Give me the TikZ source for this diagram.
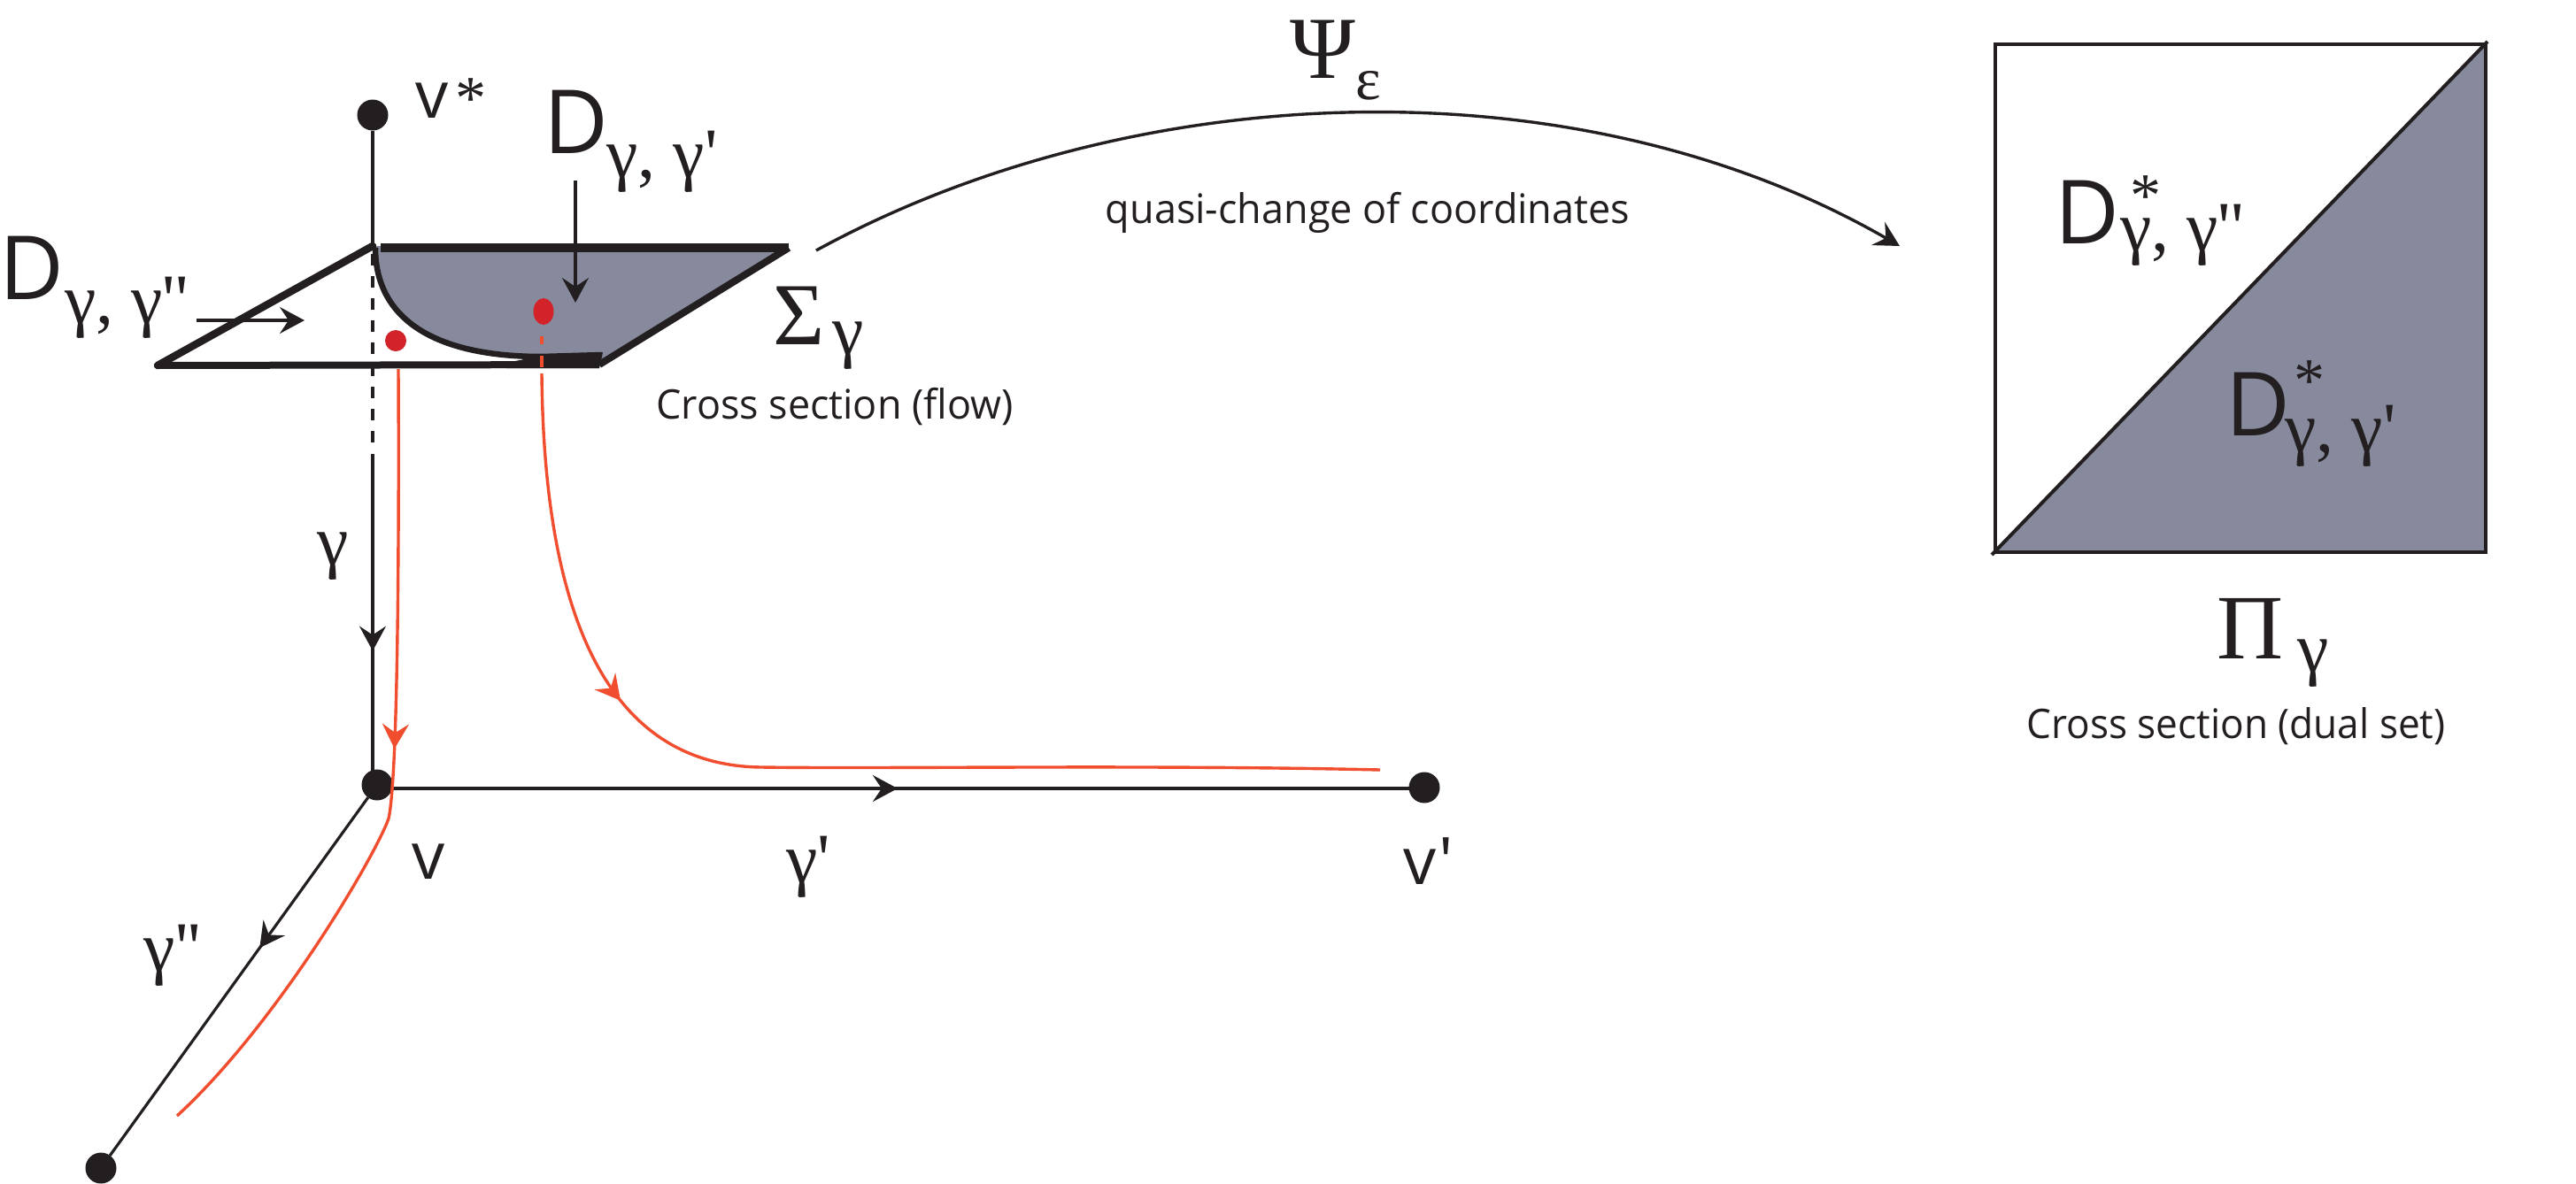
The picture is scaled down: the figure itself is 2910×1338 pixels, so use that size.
\documentclass[tikz,border=0pt]{standalone}
\usepackage{fontspec}
\setmainfont{Open Sans}
\newfontfamily\plainfont{Open Sans}
\newfontfamily\symfont{Liberation Serif}
\usetikzlibrary{arrows.meta,decorations.markings,shapes.geometric}
\definecolor{ink}{HTML}{231F20}
\definecolor{greyfill}{HTML}{868A9C}
\definecolor{flowred}{HTML}{F04E2F}
\definecolor{dotred}{HTML}{D2232A}
\newcommand{\fs}[1]{\fontsize{#1pt}{#1pt}\selectfont}
\tikzset{
 every node/.style={inner sep=0pt,outer sep=0pt,text=ink},
 vertexdot/.style={circle,fill=ink,minimum size=35pt},
 reddot/.style={ellipse,fill=dotred},
 thinline/.style={draw=ink,line width=3.2pt},
 redline/.style={draw=flowred,line width=3.4pt},
 blacktip/.style={-{Stealth[length=28pt,width=30pt,inset=10pt]}},
 midblack/.style={postaction={decorate,decoration={markings,mark=at position #1 with {\arrow{Stealth[length=28pt,width=30pt,inset=10pt]}}}}},
 midred/.style={postaction={decorate,decoration={markings,mark=at position #1 with {\arrow[flowred]{Stealth[length=28pt,width=30pt,inset=10pt]}}}}},
 bigD/.style={font=\fs{100}},
 sub/.style={font=\symfont\fs{80}},
 star/.style={font=\symfont\fs{70}},
 capt/.style={font=\fs{46}},
}
\begin{document}
\begin{tikzpicture}[x=1pt,y=-1pt]
\useasboundingbox (0,0) rectangle (2910,1338);
% vertices
\node[vertexdot] (vstar) at (421,130) {};
\node[vertexdot] (v) at (426,887) {};
\node[vertexdot] (vp) at (1609,890) {};
\node[vertexdot] (vpp) at (114,1320) {};
\coordinate (pTL) at (421,278);
\coordinate (pTR) at (891,280);
\coordinate (pBR) at (677,412);
\coordinate (pBL) at (178,413);
\coordinate (dashstart) at (421,287);
\coordinate (dashend) at (421,505);
\coordinate (solidstart) at (421,513);
\coordinate (solidend) at (421,872);
\coordinate (hstart) at (426,891);
\coordinate (hend) at (1609,891);
% grey region
\fill[greyfill] (pTL) -- (pTR) -- (pBR) -- (612,405) .. controls (490,405) and (424,360) .. (424,280) -- cycle;
% parallelogram outline
\draw[draw=ink,line width=8pt] (pBR) -- (pBL);
\draw[draw=ink,line width=8.5pt,line cap=round] (pBL) -- (pTL);
\draw[draw=ink,line width=10pt] (430,280) -- (pTR);
\draw[draw=ink,line width=8pt] (pTR) -- (pBR);
\draw[draw=ink,line width=6.5pt] (424,280) .. controls (424,360) and (490,403) .. (612,403) -- (680,401);
\fill[ink] (572,410) -- (612,402) -- (681,398) -- (677,416) -- (572,416) -- cycle;
% axes
\draw[thinline] (vstar) -- (pTL);
\draw[thinline,dash pattern=on 13pt off 12pt] (dashstart) -- (dashend);
\draw[thinline,midblack=0.62] (solidstart) -- (solidend);
\draw[thinline,midblack=0.497] (hstart) -- (hend);
\draw[thinline,midblack=0.42] (v) -- (vpp);
% inner arrows
\coordinate (a1s) at (650,204);
\coordinate (a1e) at (650,342);
\coordinate (a2s) at (222,362);
\coordinate (a2e) at (344,362);
\draw[thinline,blacktip] (a1s) -- (a1e);
\draw[thinline,blacktip] (a2s) -- (a2e);
% red dots
\node[reddot,minimum width=23pt,minimum height=30pt] (r1) at (614,352) {};
\node[reddot,minimum width=24pt,minimum height=24pt] (r2) at (447,385) {};
% red curves
\coordinate (f0) at (450,417);
\coordinate (f1) at (200,1261);
\coordinate (g0) at (612,422);
\coordinate (g1) at (1559,870);
\draw[redline,midred=0.465] (f0) .. controls (451,640) and (449,880) .. (439,925)
  .. controls (425,965) and (315,1155) .. (f1);
\draw[redline] (612,380) -- (612,389);
\draw[redline] (612,402) -- (612,415);
\draw[redline,midred=0.305] (g0) .. controls (614,640) and (660,865) .. (860,867)
  .. controls (1000,869) and (1300,864) .. (g1);
% big arc
\coordinate (arcs) at (922,283);
\coordinate (arce) at (2146,278);
\draw[draw=ink,line width=3.4pt,blacktip] (arcs) .. controls (1280,87) and (1780,67) .. (arce);
% square
\coordinate (sTL) at (2254,50);
\coordinate (sTR) at (2808,50);
\coordinate (sBL) at (2254,624);
\coordinate (sBR) at (2808,624);
\coordinate (dgA) at (2250,627);
\coordinate (dgB) at (2810,47);
\fill[greyfill] (sBL) -- (sTR) -- (sBR) -- cycle;
\draw[draw=ink,line width=4pt] (sBL) rectangle (sTR);
\draw[draw=ink,line width=4pt] (dgA) -- (dgB);
% labels
\node[font=\fs{74}] (lvs) at (488,114) {v};
\node[star] (lvst) at (532,112) {*};
\node[bigD] (d1) at (651,138) {D};
\node[sub] (d1s) at (748,183) {γ, γ'};
\node[bigD] (d2) at (36,303) {D};
\node[sub] (d2s) at (143,348) {γ, γ''};
\node[font=\symfont\fs{100}] (sig) at (903,357) {Σ};
\node[sub] (sigs) at (958,391) {γ};
\node[capt] (cs1) at (943,460) {\scalebox{0.977}[1]{Cross section (flow)}};
\node[font=\symfont\fs{100}] (psi) at (1494,56) {Ψ};
\node[font=\symfont\fs{68}] (eps) at (1546,97) {ε};
\node[capt] (qc) at (1545,240) {\scalebox{0.978}[1]{quasi-change of coordinates}};
\node[bigD] (ds1) at (2358,240) {D};
\node[star] (ds1a) at (2424,222) {*};
\node[sub] (ds1s) at (2465,266) {γ, γ''};
\node[bigD] (ds2) at (2551,457) {D};
\node[star] (ds2a) at (2609,431) {*};
\node[sub] (ds2s) at (2644,493) {γ, γ'};
\node[font=\symfont\fs{104}] (pi) at (2542,710) {Π};
\node[sub] (pis) at (2613,750) {γ};
\node[capt] (cs2) at (2526,821) {\scalebox{0.96}[1]{Cross section (dual set)}};
\node[sub] (lg) at (376,629) {γ};
\node[sub] (lgp) at (913,980) {γ'};
\node[sub] (lgpp) at (195,1080) {γ''};
\node[font=\fs{74}] (lv) at (484,974) {v};
\node[font=\plainfont\fs{74}] (lvp) at (1614,973) {v'};
\end{tikzpicture}
\end{document}
